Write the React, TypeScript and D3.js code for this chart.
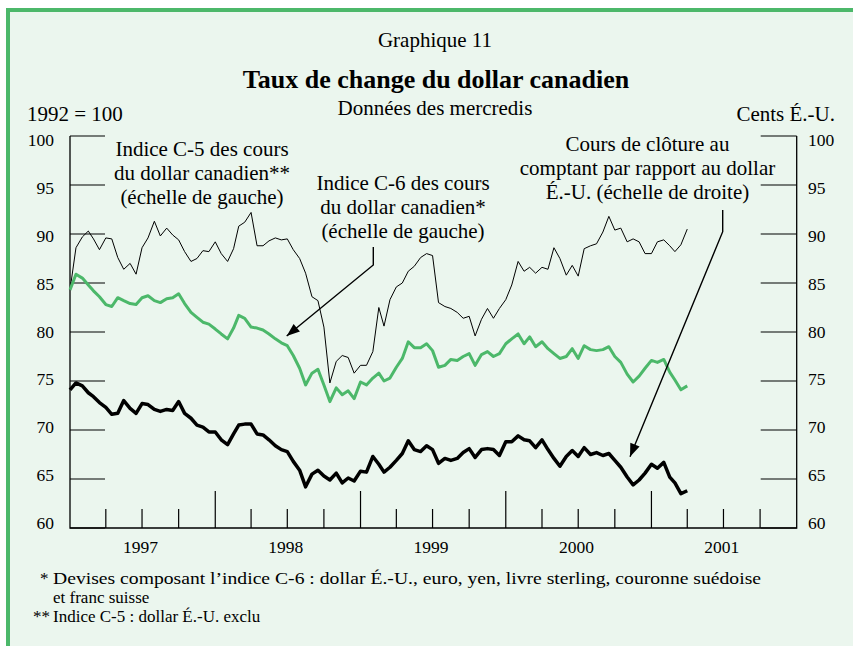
import React from "react";
import * as d3 from "d3";

// semi-monthly readings, Jan 1997 to Apr 2001
const spotUS = [
  74.1, 74.8, 74.5, 73.8, 73.4, 72.8, 72.3, 71.6, 71.7, 73.0, 72.2, 71.7,
  72.7, 72.6, 72.1, 71.9, 72.1, 72.0, 72.9, 71.7, 71.2, 70.5, 70.3, 69.8,
  69.8, 69.0, 68.5, 69.6, 70.5, 70.6, 70.6, 69.6, 69.5, 69.0, 68.4, 68.0,
  67.8, 66.8, 65.9, 64.2, 65.5, 65.9, 65.3, 64.9, 65.6, 64.6, 65.1, 64.8,
  65.8, 65.7, 67.3, 66.5, 65.7, 66.2, 66.9, 67.6, 68.9, 68.0, 67.8, 68.4,
  68.0, 66.6, 67.1, 66.9, 67.1, 67.7, 68.1, 67.2, 68.0, 68.1, 68.0, 67.4,
  68.8, 68.8, 69.4, 69.0, 68.9, 68.2, 69.0, 68.0, 67.1, 66.3, 67.3, 67.9,
  67.3, 68.2, 67.5, 67.7, 67.4, 67.6, 66.9, 66.2, 65.2, 64.4, 64.9, 65.6,
  66.5, 66.1, 66.7, 65.2, 64.6, 63.5, 63.8,
];

const c6Index = [
  84.3, 85.9, 85.5, 84.8, 84.2, 83.6, 82.8, 82.6, 83.5, 83.2, 82.9, 82.8,
  83.5, 83.7, 83.2, 83.0, 83.4, 83.5, 83.9, 82.9, 82.0, 81.5, 81.0, 80.8,
  80.3, 79.8, 79.3, 80.4, 81.7, 81.4, 80.5, 80.4, 80.2, 79.8, 79.3, 78.9,
  78.6, 77.6, 76.3, 74.6, 75.8, 76.2, 74.6, 72.9, 74.3, 73.6, 74.0, 73.2,
  74.9, 74.6, 75.3, 75.8, 75.0, 75.3, 76.4, 77.3, 79.0, 78.4, 78.4, 78.8,
  78.1, 76.4, 76.6, 77.2, 77.1, 77.5, 77.8, 76.6, 77.7, 78.0, 77.5, 77.8,
  78.8, 79.3, 79.8, 78.8, 79.5, 78.5, 79.0, 78.3, 77.8, 77.3, 77.5, 78.3,
  77.3, 78.6, 78.2, 78.1, 78.2, 78.5, 77.5, 76.9, 75.7, 74.9, 75.5, 76.3,
  77.1, 76.9, 77.2, 75.9, 75.1, 74.1, 74.5,
];

const c5Index = [
  84.3, 88.6, 89.7, 90.3, 89.5, 88.4, 89.6, 89.5, 87.6, 86.4, 87.0, 85.9,
  88.6, 89.6, 91.3, 89.8, 90.6, 89.9, 89.4, 88.2, 87.2, 87.5, 88.3, 88.2,
  89.2, 88.0, 87.2, 88.5, 90.8, 91.2, 92.2, 88.8, 88.8, 89.3, 89.6, 89.4,
  89.5, 88.4, 87.5, 86.0, 83.6, 83.2, 80.5, 74.8, 77.0, 77.6, 77.4, 75.8,
  76.6, 76.6, 78.0, 82.5, 80.6, 83.3, 84.6, 85.0, 86.2, 86.7, 87.6, 88.0,
  87.8, 83.0, 82.6, 82.4, 82.0, 81.4, 81.6, 79.6, 81.3, 82.4, 81.4, 82.4,
  83.3, 84.8, 87.2, 86.2, 86.6, 86.0, 86.6, 86.4, 88.6, 87.5, 85.8, 86.8,
  85.7, 88.5, 88.8, 89.0, 90.2, 91.8, 90.4, 90.6, 89.2, 89.5, 89.2, 88.0,
  88.0, 89.2, 89.4, 88.8, 88.2, 88.9, 90.5,
];

const years = ["1997", "1998", "1999", "2000", "2001"];
const leftTicks = [60, 65, 70, 75, 80, 85, 90, 95, 100];
const rightTicks = [60, 65, 70, 75, 80, 85, 90, 95, 100];

const dates = spotUS.map((_, i) => new Date(Date.UTC(1997, Math.floor(i / 2), i % 2 ? 16 : 1)));

const W = 853;
const H = 646;
const BG = "#ebf6ee";
const GREEN = "#4cb86a";
const FONT = "'Liberation Serif','Times New Roman',Times,serif";

function arrowHead(x1: number, y1: number, x2: number, y2: number) {
  const a = Math.atan2(y2 - y1, x2 - x1);
  const len = 13;
  const hw = 5;
  const bx = x2 - len * Math.cos(a);
  const by = y2 - len * Math.sin(a);
  const px = -Math.sin(a) * hw;
  const py = Math.cos(a) * hw;
  return `M${x2},${y2}L${bx + px},${by + py}L${bx - px},${by - py}Z`;
}

export default function App() {
  const x = d3
    .scaleUtc()
    .domain([new Date(Date.UTC(1997, 0, 1)), new Date(Date.UTC(2002, 0, 1))])
    .range([70, 796.7]);
  const y = d3.scaleLinear().domain([60, 100]).range([528, 136]);
  // label baselines in the original drift a little from the ticks
  const yLab = d3.scaleLinear().domain([60, 100]).range([529, 146]);

  const line = (vals: number[]) =>
    d3
      .line<number>()
      .x((_, i) => x(dates[i]))
      .y((d) => y(d))(vals) || "";

  const quarters = d3.utcMonth
    .every(3)!
    .range(new Date(Date.UTC(1997, 3, 1)), new Date(Date.UTC(2002, 0, 1)));

  const left = 70;
  const right = 796.7;
  const bottom = 528;
  const top = 136;

  const a1 = { x0: 373.3, y0: 247, x1: 373.3, y1: 265, x2: 286.7, y2: 336 };
  const a2 = { x0: 722.7, y0: 210, x1: 722.7, y1: 231.7, x2: 630, y2: 456.7 };

  return (
    <div style={{ position: "absolute", left: 0, top: 0 }}>
      <svg width={W} height={H} style={{ display: "block", fontFamily: FONT }}>
        <rect x={0} y={0} width={W} height={H} fill="#fff" />
        <rect x={8} y={10} width={W} height={H} fill={BG} />
        <line x1={6} x2={W} y1={10} y2={10} stroke={GREEN} strokeWidth={4} />
        <line x1={8} x2={8} y1={8} y2={H} stroke={GREEN} strokeWidth={4} />

        <text x={435} y={47} fontSize={21} textAnchor="middle">Graphique 11</text>
        <text x={436} y={88} fontSize={26} fontWeight="bold" textAnchor="middle">
          Taux de change du dollar canadien
        </text>
        <text x={435} y={115} fontSize={21} textAnchor="middle">Données des mercredis</text>
        <text x={27} y={121} fontSize={21}>1992 = 100</text>
        <text x={835} y={121} fontSize={21} textAnchor="end">Cents É.-U.</text>

        {/* axes */}
        <path
          d={`M${left},${top}V${bottom}H${right}V${top}`}
          fill="none"
          stroke="#000"
          strokeWidth={1.3}
        />
        {leftTicks.map((t) => (
          <g key={"l" + t}>
            <line x1={left} x2={left + 35} y1={y(t)} y2={y(t)} stroke="#000" strokeWidth={1.2} />
            <text x={54} y={yLab(t)} fontSize={17.5} textAnchor="end">{t}</text>
          </g>
        ))}
        {rightTicks.map((t) => (
          <g key={"r" + t}>
            <line x1={right - 36} x2={right} y1={y(t)} y2={y(t)} stroke="#000" strokeWidth={1.2} />
            <text x={808} y={yLab(t)} fontSize={17.5}>{t}</text>
          </g>
        ))}
        {quarters.map((d) => (
          <line
            key={d.toISOString()}
            x1={x(d)}
            x2={x(d)}
            y1={bottom}
            y2={d.getUTCMonth() === 0 ? bottom - 37 : bottom - 19}
            stroke="#000"
            strokeWidth={1.2}
          />
        ))}
        {years.map((yr) => (
          <text
            key={yr}
            x={x(new Date(Date.UTC(+yr, 6, 2))) - 2}
            y={553}
            fontSize={17.5}
            textAnchor="middle"
          >
            {yr}
          </text>
        ))}

        {/* series */}
        <path d={line(c5Index)} fill="none" stroke="#000" strokeWidth={1} strokeLinejoin="round" />
        <path d={line(c6Index)} fill="none" stroke={GREEN} strokeWidth={3} strokeLinejoin="round" />
        <path d={line(spotUS)} fill="none" stroke="#000" strokeWidth={3.5} strokeLinejoin="round" />

        {/* annotations */}
        <g fontSize={21} textAnchor="middle">
          <text x={202} y={156}>Indice C-5 des cours</text>
          <text x={202} y={180}>du dollar canadien**</text>
          <text x={202} y={204}>(échelle de gauche)</text>
          <text x={403} y={190}>Indice C-6 des cours</text>
          <text x={403} y={214}>du dollar canadien*</text>
          <text x={403} y={238}>(échelle de gauche)</text>
          <text x={647.5} y={151}>Cours de clôture au</text>
          <text x={647.5} y={175}>comptant par rapport au dollar</text>
          <text x={647.5} y={199}>É.-U. (échelle de droite)</text>
        </g>
        {[a1, a2].map((a, i) => (
          <g key={i}>
            <path
              d={`M${a.x0},${a.y0}L${a.x1},${a.y1}L${a.x2},${a.y2}`}
              fill="none"
              stroke="#000"
              strokeWidth={1.4}
            />
            <path d={arrowHead(a.x1, a.y1, a.x2, a.y2)} fill="#000" />
          </g>
        ))}

        {/* footnotes */}
        <g fontSize={17}>
          <text x={40} y={584}>*</text>
          <text x={53} y={584} textLength={708} lengthAdjust="spacingAndGlyphs">
            Devises composant l’indice C-6 : dollar É.-U., euro, yen, livre sterling, couronne suédoise
          </text>
          <text x={53} y={603}>et franc suisse</text>
          <text x={33} y={622}>**</text>
          <text x={53} y={622}>Indice C-5 : dollar É.-U. exclu</text>
        </g>
      </svg>
    </div>
  );
}
